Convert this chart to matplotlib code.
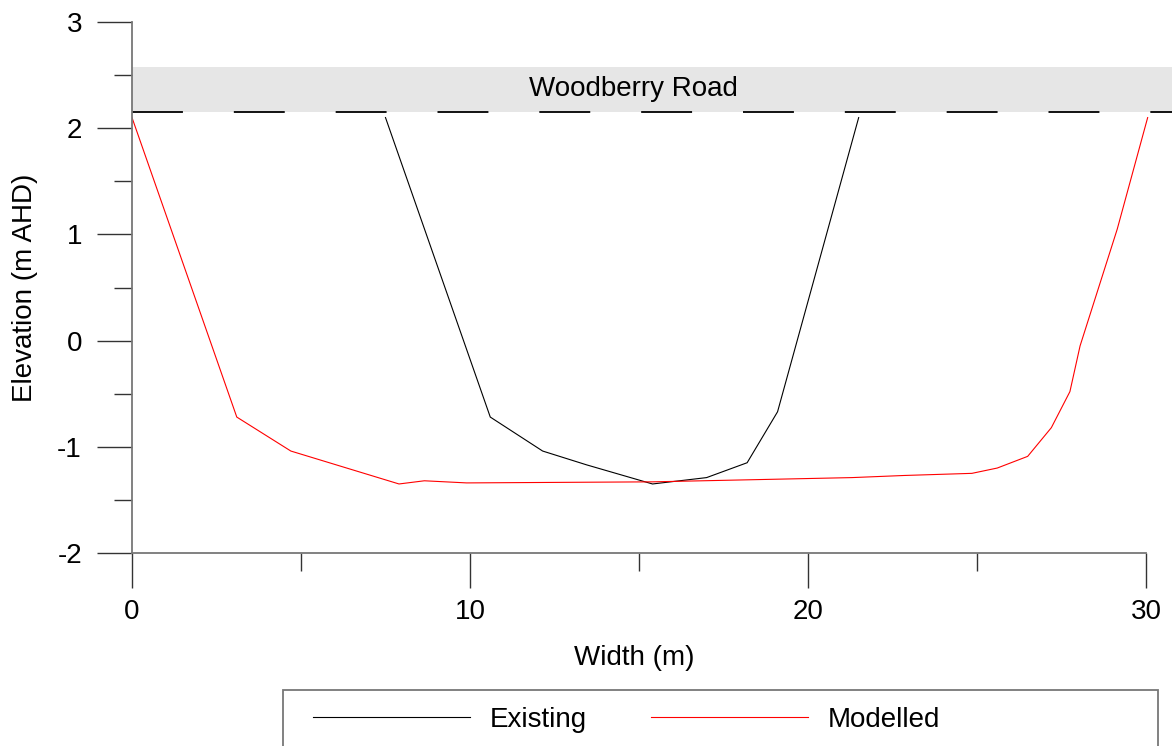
import matplotlib
matplotlib.use('AGG')
import matplotlib.pyplot as plt
from matplotlib.patches import Rectangle
from matplotlib.ticker import MultipleLocator

plt.rcParams['font.family'] = ['Liberation Sans', 'DejaVu Sans']
plt.rcParams['font.size'] = 20
plt.rcParams['axes.unicode_minus'] = False

# Cross sections (width m, elevation m AHD)
existing_x = [7.5, 10.6, 12.15, 13.45, 15.4, 17.0, 18.2, 19.1, 21.5]
existing_y = [2.10, -0.72, -1.04, -1.17, -1.35, -1.29, -1.15, -0.67, 2.10]

modelled_x = [0.0, 3.1, 4.7, 7.9, 8.65, 9.9, 15.4, 21.3, 22.85, 24.85,
              25.6, 26.5, 27.2, 27.75, 28.05, 29.15, 30.05]
modelled_y = [2.10, -0.72, -1.04, -1.35, -1.32, -1.34, -1.33, -1.29, -1.27, -1.25,
              -1.20, -1.09, -0.82, -0.48, -0.05, 1.05, 2.10]

road_bottom = 2.15
road_top = 2.58
road_label = 'Woodberry Road'

W, H = 1174, 746
fig = plt.figure(figsize=(W / 100, H / 100), dpi=100)
ax = fig.add_axes([132 / W, 1 - 553 / H, 1040 / W, 531 / H])

ax.set_xlim(0, 30.77)
ax.set_ylim(-2, 3)

# road band
ax.axhspan(road_bottom, road_top, color='#e6e6e6', lw=0, zorder=0)
ax.axhline(road_bottom, color='black', lw=1.3, dashes=(28.2, 28.2), zorder=1)
ax.text(14.85, (road_bottom + road_top) / 2, road_label,
        ha='center', va='center', fontsize=20)

l1, = ax.plot(existing_x, existing_y, color='black', lw=0.8)
l2, = ax.plot(modelled_x, modelled_y, color='red', lw=0.8)

for s in ['top', 'right']:
    ax.spines[s].set_visible(False)
for s in ['left', 'bottom']:
    ax.spines[s].set_color('#777777')
    ax.spines[s].set_linewidth(1.3)
ax.spines['bottom'].set_bounds(0, 30)

ax.xaxis.set_major_locator(MultipleLocator(10))
ax.xaxis.set_minor_locator(MultipleLocator(5))
ax.yaxis.set_major_locator(MultipleLocator(1))
ax.yaxis.set_minor_locator(MultipleLocator(0.5))
ax.tick_params(which='major', length=25, width=1.0, color='#333333', labelsize=20)
ax.tick_params(which='minor', length=13, width=1.0, color='#333333')
ax.tick_params(axis='y', which='major', pad=11)
ax.tick_params(axis='x', which='major', pad=8)

ax.set_xlabel('Width (m)', fontsize=20)
ax.xaxis.set_label_coords(0.483, -0.198)
ax.xaxis.label.set_va('center')
ax.set_ylabel('Elevation (m AHD)', fontsize=20)
ax.yaxis.set_label_coords(-0.103, 0.5)
ax.yaxis.label.set_va('center')

# legend box drawn separately, legend itself without frame
fig.patches.append(Rectangle((283 / W, 1 - 760 / H), 875 / W, 70 / H,
                             transform=fig.transFigure, fill=False,
                             edgecolor='#777777', lw=1.3))
fig.legend([l1, l2], ['Existing', 'Modelled'], loc='center left',
           bbox_to_anchor=(313 / W, 1 - 720 / H), ncol=2, frameon=False,
           handlelength=5.65, handletextpad=0.72, columnspacing=2.3,
           fontsize=20, borderpad=0, borderaxespad=0)

plt.savefig('out.png', dpi=100)
